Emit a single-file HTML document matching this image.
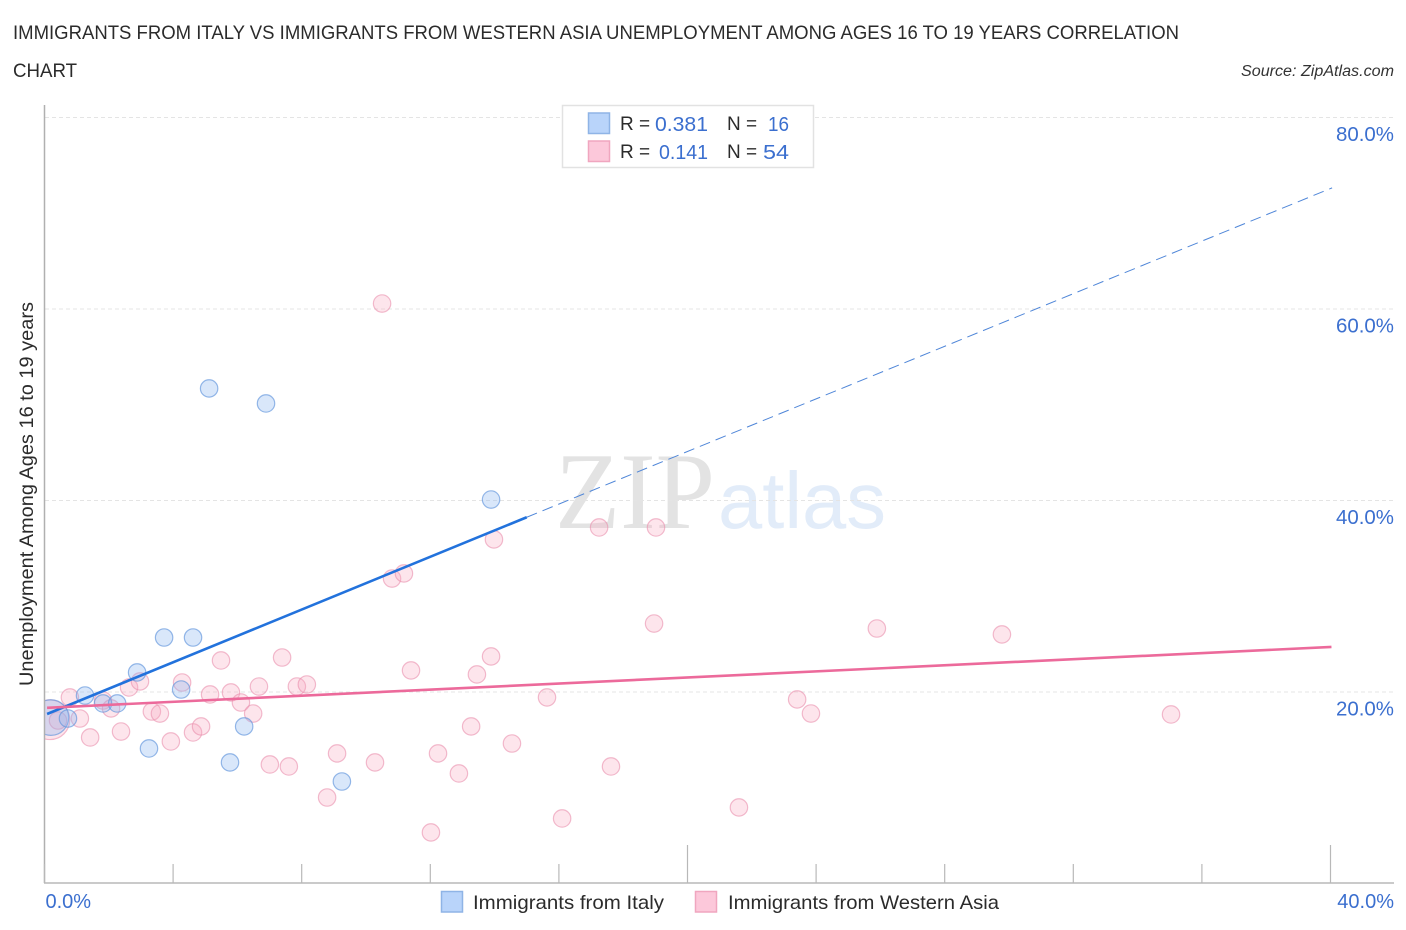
<!DOCTYPE html>
<html lang="en">
<head>
<meta charset="utf-8">
<title>Immigrants from Italy vs Immigrants from Western Asia Unemployment Correlation Chart</title>
<style>
html,body{margin:0;padding:0;background:#fff;}
svg{display:block;font-family:"Liberation Sans",sans-serif;}
</style>
</head>
<body>
<svg id="chart" xmlns="http://www.w3.org/2000/svg" width="1406" height="930" viewBox="0 0 1406 930">
  <defs>
    <clipPath id="plot-clip"><rect x="45" y="100" width="1350" height="783"/></clipPath>
  </defs>
  <text x="13" y="39" font-size="19.5" fill="#2b2b2b" textLength="1166" lengthAdjust="spacingAndGlyphs">IMMIGRANTS FROM ITALY VS IMMIGRANTS FROM WESTERN ASIA UNEMPLOYMENT AMONG AGES 16 TO 19 YEARS CORRELATION</text>
  <text x="13" y="77" font-size="19.5" fill="#2b2b2b" textLength="64" lengthAdjust="spacingAndGlyphs">CHART</text>
  <text x="1241" y="76" font-size="15.5" font-style="italic" fill="#333" textLength="153" lengthAdjust="spacingAndGlyphs">Source: ZipAtlas.com</text>

  <text x="555" y="528" font-family="'Liberation Serif',serif" font-size="109" fill="#e3e3e3" textLength="160" lengthAdjust="spacingAndGlyphs">ZIP</text>
  <text x="718" y="528" font-size="80" fill="#e2ecf9" textLength="168" lengthAdjust="spacingAndGlyphs">atlas</text>

  <g id="grid"></g>
  <g id="points" clip-path="url(#plot-clip)"></g>
  <g id="trends"></g>
  <g id="axes"></g>

  <text transform="translate(33,686) rotate(-90)" font-size="19.5" fill="#2b2b2b" textLength="384" lengthAdjust="spacingAndGlyphs">Unemployment Among Ages 16 to 19 years</text>

  <g>
    <rect x="562.5" y="105.5" width="251" height="62" fill="#fff" stroke="#e2e2e2" stroke-width="1.5"/>
    <rect x="588.5" y="113" width="21" height="20.5" fill="#b9d4fa" stroke="#8fb4e6" stroke-width="1.5"/>
    <rect x="588.5" y="141" width="21" height="20.5" fill="#fcc8da" stroke="#f0a6bf" stroke-width="1.5"/>
    <text x="620" y="130" font-size="19" fill="#2b2b2b">R =</text>
    <text x="655" y="131" font-size="20.5" fill="#3b6fcf" textLength="53" lengthAdjust="spacingAndGlyphs">0.381</text>
    <text x="727" y="130" font-size="19" fill="#2b2b2b">N =</text>
    <text x="768" y="131" font-size="20.5" fill="#3b6fcf" textLength="21" lengthAdjust="spacingAndGlyphs">16</text>
    <text x="620" y="158" font-size="19" fill="#2b2b2b">R =</text>
    <text x="659" y="159" font-size="20.5" fill="#3b6fcf" textLength="49" lengthAdjust="spacingAndGlyphs">0.141</text>
    <text x="727" y="158" font-size="19" fill="#2b2b2b">N =</text>
    <text x="763" y="159" font-size="20.5" fill="#3b6fcf" textLength="26" lengthAdjust="spacingAndGlyphs">54</text>
  </g>

  <g>
    <g>
      <rect x="441.5" y="891.5" width="21" height="20.5" fill="#b9d4fa" stroke="#8fb4e6" stroke-width="1.5"/>
      <text x="473" y="909" font-size="19.5" fill="#2b2b2b" textLength="191" lengthAdjust="spacingAndGlyphs">Immigrants from Italy</text>
    </g>
    <g>
      <rect x="695.5" y="891.5" width="21" height="20.5" fill="#fcc8da" stroke="#f0a6bf" stroke-width="1.5"/>
      <text x="728" y="909" font-size="19.5" fill="#2b2b2b" textLength="271" lengthAdjust="spacingAndGlyphs">Immigrants from Western Asia</text>
    </g>
  </g>
</svg>
<script>
const yTickValues = [20, 40, 60, 80];
const yTickLabels = ["20.0%", "40.0%", "60.0%", "80.0%"];
const xTickValues = [0, 4, 8, 12, 16, 20, 24, 28, 32, 36, 40];
const xEndValues = [0, 40];
const xEndLabels = ["0.0%", "40.0%"];

const italyX = [0.20, 0.73, 1.26, 1.82, 2.26, 2.88, 3.25, 3.72, 4.25, 4.62, 5.12, 5.77, 6.21, 6.89, 9.25, 13.89];
const italyY = [17.28, 17.18, 19.58, 18.75, 18.75, 21.99, 14.05, 25.64, 20.21, 25.64, 51.65, 12.59, 16.35, 50.08, 10.60, 40.05];
const italySizes = [4.2, 1, 1, 1, 1, 1, 1, 1, 1, 1, 1, 1, 1, 1, 1, 1];

const asiaX = [0.17, 0.42, 0.79, 1.10, 1.42, 1.82, 2.07, 2.38, 2.63, 2.97, 3.34, 3.59, 3.93, 4.28, 4.62, 4.87, 5.15, 5.49, 5.80, 6.11, 6.49, 6.67, 7.01, 7.39, 7.60, 7.85, 8.16, 8.79, 9.10, 10.28, 10.50, 10.81, 11.18, 11.40, 12.02, 12.24, 12.89, 13.27, 13.45, 13.89, 13.98, 14.54, 15.63, 16.10, 17.25, 17.62, 18.96, 19.02, 21.60, 23.41, 23.84, 25.89, 29.78, 35.04];
const asiaY = [17.05, 16.97, 19.38, 17.18, 15.20, 19.06, 18.23, 15.82, 20.42, 21.05, 17.91, 17.70, 14.78, 20.94, 15.72, 16.35, 19.69, 23.24, 19.90, 18.85, 17.70, 20.52, 12.38, 23.55, 12.17, 20.52, 20.73, 8.93, 13.53, 12.59, 60.52, 31.80, 32.33, 22.20, 5.28, 13.53, 11.44, 16.35, 21.78, 23.66, 35.88, 14.57, 19.38, 6.74, 37.13, 12.17, 27.10, 37.13, 7.89, 19.17, 17.70, 26.58, 25.96, 17.60];
const asiaSizes = [5.2, 1, 1, 1, 1, 1, 1, 1, 1, 1, 1, 1, 1, 1, 1, 1, 1, 1, 1, 1, 1, 1, 1, 1, 1, 1, 1, 1, 1, 1, 1, 1, 1, 1, 1, 1, 1, 1, 1, 1, 1, 1, 1, 1, 1, 1, 1, 1, 1, 1, 1, 1, 1, 1];

const italyTrendX = [0.08, 15.0];
const italyTrendY = [17.65, 38.2];
const italyDashX = [15.0, 40.05];
const italyDashY = [38.2, 72.6];
const asiaTrendX = [0.08, 40.03];
const asiaTrendY = [18.3, 24.65];

const NS = "http://www.w3.org/2000/svg";
const xScale = function (v) { return 44.5 + v * 32.15; };
const yScale = function (v) { return 883 - v * 9.575; };
const radius = function (s) { return 8.7 * Math.sqrt(s); };
const make = function (tag, parent, props) {
  const el = document.createElementNS(NS, tag);
  Object.keys(props).forEach(function (k) { el.setAttribute(k, props[k]); });
  parent.appendChild(el);
  return el;
};

const grid = document.getElementById("grid");
const axes = document.getElementById("axes");
const points = document.getElementById("points");
const trends = document.getElementById("trends");

yTickValues.forEach(function (v, i) {
  const line = make("line", grid, { x1: 45, x2: 1394, y1: yScale(v) + 0.5, y2: yScale(v) + 0.5, stroke: "#e4e4e4", "stroke-width": 1, "stroke-dasharray": "4 3" });
  
  
  const label = make("text", axes, { x: 1394, y: yScale(v) + 24, "text-anchor": "end", "font-size": 20, fill: "#3b6fcf", textLength: 58, lengthAdjust: "spacingAndGlyphs" });
  label.textContent = yTickLabels[i];
  
  
});

const yAxis = make("line", axes, { x1: 44.5, x2: 44.5, y1: 105, y2: 883, stroke: "#b0b0b0", "stroke-width": 1.5 });


const xAxis = make("line", axes, { x1: 44, x2: 1394, y1: 883, y2: 883, stroke: "#b8b8b8", "stroke-width": 1.5 });



xTickValues.forEach(function (v) {
  const tall = v === 20 || v === 40;
  const tick = make("line", axes, { x1: xScale(v), x2: xScale(v), y1: tall ? 845 : 864, y2: 883, stroke: "#b8b8b8", "stroke-width": 1.2 });
  
  
});

xEndValues.forEach(function (v, i) {
  const label = make("text", axes, { x: i === 0 ? xScale(v) + 1 : 1394, y: 908, "text-anchor": i === 0 ? "start" : "end", "font-size": 20, fill: "#3b6fcf" });
  label.textContent = xEndLabels[i];
  
  
});

asiaX.forEach(function (v, i) {
  const c = make("circle", points, { cx: xScale(v), cy: yScale(asiaY[i]), r: radius(asiaSizes[i]), fill: "#f7a8c0", "fill-opacity": 0.3, stroke: "#ea8fad", "stroke-opacity": 0.6, "stroke-width": 1.2 });
  
  
});

italyX.forEach(function (v, i) {
  const c = make("circle", points, { cx: xScale(v), cy: yScale(italyY[i]), r: radius(italySizes[i]), fill: "#8db6ef", "fill-opacity": 0.33, stroke: "#5f93dc", "stroke-opacity": 0.65, "stroke-width": 1.2 });
  
  
});

const italyDash = make("line", trends, { x1: xScale(italyDashX[0]), y1: yScale(italyDashY[0]), x2: xScale(italyDashX[1]), y2: yScale(italyDashY[1]), stroke: "#4f86d8", "stroke-width": 1, "stroke-dasharray": "11 6" });


const italyTrend = make("line", trends, { x1: xScale(italyTrendX[0]), y1: yScale(italyTrendY[0]), x2: xScale(italyTrendX[1]), y2: yScale(italyTrendY[1]), stroke: "#2272dc", "stroke-width": 2.6 });


const asiaTrend = make("line", trends, { x1: xScale(asiaTrendX[0]), y1: yScale(asiaTrendY[0]), x2: xScale(asiaTrendX[1]), y2: yScale(asiaTrendY[1]), stroke: "#ec6a9b", "stroke-width": 2.6 });


</script>
</body>
</html>
